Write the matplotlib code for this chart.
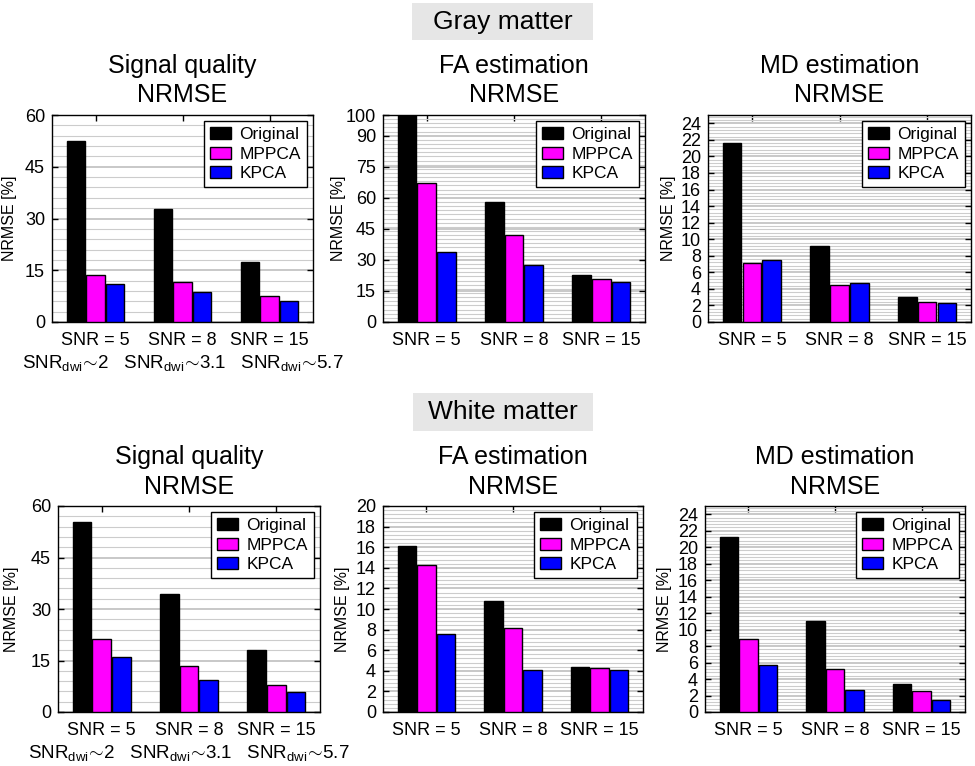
import matplotlib
matplotlib.use("Agg")
import matplotlib.pyplot as plt
import numpy as np
from matplotlib.ticker import MultipleLocator, FixedLocator
from matplotlib.patches import Rectangle

plt.rcParams['font.family'] = ['Liberation Sans', 'DejaVu Sans']
plt.rcParams['mathtext.fontset'] = 'custom'
plt.rcParams['mathtext.rm'] = 'Liberation Sans'
plt.rcParams['mathtext.it'] = 'Liberation Sans:italic'
plt.rcParams['mathtext.sf'] = 'Liberation Sans'

methods = ["Original", "MPPCA", "KPCA"]
colors = ["#000000", "#ff00ff", "#0000ff"]
snr_labels = ["SNR = 5", "SNR = 8", "SNR = 15"]
snr_dwi_labels = [r"SNR$_{\mathrm{dwi}}\!\sim\!$2", r"SNR$_{\mathrm{dwi}}\!\sim\!$3.1",
                  r"SNR$_{\mathrm{dwi}}\!\sim\!$5.7"]

# Gray matter
gm_signal = {"Original": [52.5, 32.8, 17.5], "MPPCA": [13.5, 11.7, 7.5], "KPCA": [11.0, 8.8, 6.2]}
gm_fa = {"Original": [100.0, 58.0, 22.5], "MPPCA": [67.0, 42.0, 21.0], "KPCA": [34.0, 27.5, 19.5]}
gm_md = {"Original": [21.6, 9.2, 3.0], "MPPCA": [7.1, 4.5, 2.4], "KPCA": [7.5, 4.7, 2.3]}
# White matter
wm_signal = {"Original": [55.2, 34.3, 18.2], "MPPCA": [21.3, 13.4, 8.0], "KPCA": [16.0, 9.4, 5.7]}
wm_fa = {"Original": [16.1, 10.8, 4.35], "MPPCA": [14.3, 8.2, 4.25], "KPCA": [7.6, 4.05, 4.1]}
wm_md = {"Original": [21.2, 11.0, 3.4], "MPPCA": [8.9, 5.2, 2.6], "KPCA": [5.7, 2.7, 1.5]}

titles = ["Signal quality\nNRMSE", "FA estimation\nNRMSE", "MD estimation\nNRMSE"]

W, H = 975, 766
fig = plt.figure(figsize=(W / 100, H / 100), dpi=100)

def px_axes(x0, y0, x1, y1):
    return fig.add_axes([x0 / W, (H - y1) / H, (x1 - x0) / W, (y1 - y0) / H])

panels = [
    ((52, 115, 313, 322), gm_signal, 60, list(range(0, 61, 15)), 3, 0, True, -0.135),
    ((383, 115, 645, 322), gm_fa, 100, [0, 15, 30, 45, 60, 75, 90, 100], 2, 1, False, -0.140),
    ((708, 115, 971, 322), gm_md, 25, list(range(0, 25, 2)), 0.4, 2, False, -0.122),
    ((58, 506, 320, 712), wm_signal, 60, list(range(0, 61, 15)), 3, 0, True, -0.150),
    ((383, 506, 643, 712), wm_fa, 20, list(range(0, 21, 2)), 0.4, 1, False, -0.128),
    ((705, 506, 965, 712), wm_md, 25, list(range(0, 25, 2)), 0.4, 2, False, -0.128),
]

x = np.arange(1, 4)
bw = 0.212
offs = [-0.225, 0.0, 0.225]

for box, data, ymax, majors, minor, ti, twoline, ylx in panels:
    ax = px_axes(*box)
    ax.set_axisbelow(True)
    ax.yaxis.set_major_locator(FixedLocator(majors))
    ax.yaxis.set_minor_locator(MultipleLocator(minor))
    ax.grid(True, which='major', axis='y', color='#c4c4c4', lw=1.3)
    ax.grid(True, which='minor', axis='y', color='#cccccc', lw=0.8)
    for m, c, o in zip(methods, colors, offs):
        ax.bar(x + o, data[m], width=bw, color=c, edgecolor='black', lw=1.0, label=m, zorder=3)
    ax.set_xlim(0.5, 3.5)
    ax.set_ylim(0, ymax)
    ax.set_xticks(x)
    ax.set_xticklabels(snr_labels)
    if twoline:
        ax.set_xlabel("   ".join(snr_dwi_labels), fontsize=13.5, labelpad=3)
    ax.tick_params(axis='both', which='major', direction='in', top=True, right=True,
                   labelsize=13, length=4, width=1)
    ax.tick_params(axis='x', pad=7)
    ax.tick_params(axis='y', pad=5)
    ax.tick_params(axis='both', which='minor', length=0)
    for s in ax.spines.values():
        s.set_linewidth(1.0)
    ax.set_ylabel("NRMSE [%]", fontsize=11.5)
    ax.yaxis.set_label_coords(ylx, 0.5)
    ax.set_title(titles[ti], fontsize=18, pad=9, linespacing=1.3)
    leg = ax.legend(loc='upper right', fontsize=12.5, frameon=True, fancybox=False,
                    edgecolor='black', framealpha=1, handlelength=1.2, handleheight=0.7,
                    labelspacing=0.25, borderaxespad=0.35, borderpad=0.35, handletextpad=0.5)
    leg.get_frame().set_linewidth(1.0)

for label, (x0, y0, x1, y1) in [("Gray matter", (412, 3, 593, 40)),
                                 ("White matter", (413, 393, 593, 431))]:
    fig.patches.append(Rectangle((x0 / W, (H - y1) / H), (x1 - x0) / W, (y1 - y0) / H,
                                 transform=fig.transFigure, facecolor='#e6e6e6',
                                 edgecolor='none', zorder=0))
    fig.text((x0 + x1) / 2 / W, (H - (y0 + y1) / 2) / H, label, fontsize=19,
             ha='center', va='center')

fig.savefig("out.png", dpi=100)
